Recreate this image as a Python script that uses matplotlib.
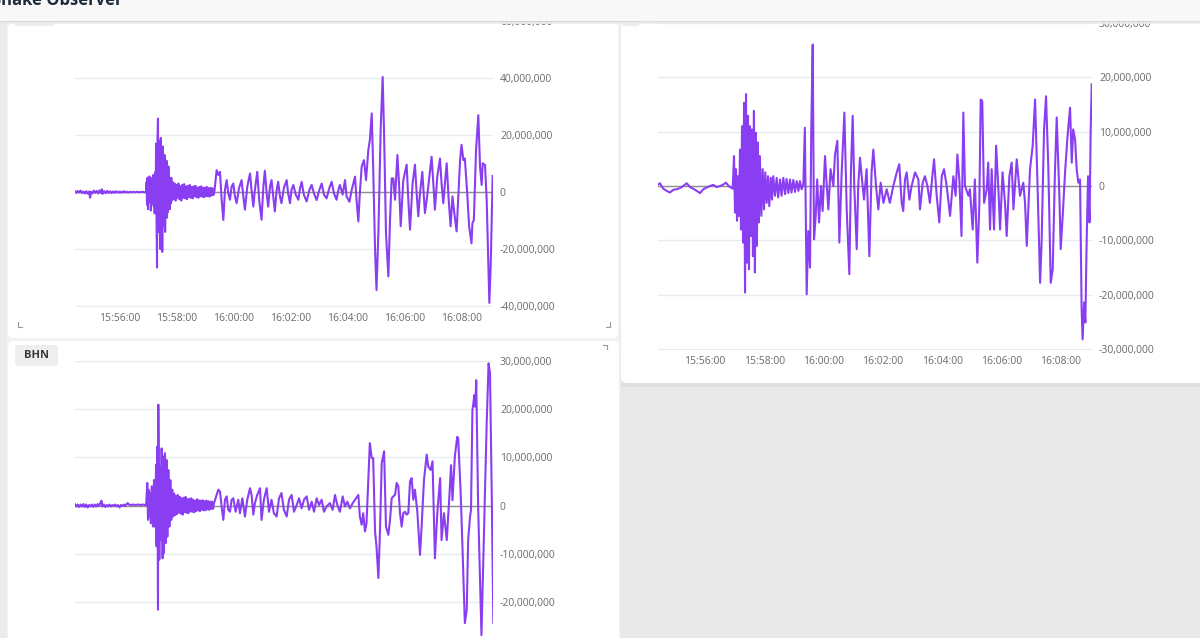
import matplotlib.pyplot as plt
from matplotlib.patches import Rectangle, FancyBboxPatch
from matplotlib.lines import Line2D
from matplotlib.ticker import FuncFormatter

W, H = 1200, 638

# time = seconds after 15:54:00, amplitude = millions of counts
# top-left panel (label hidden under the header)
top_trace = [
    (25, 0.3), (28, -0.3), (31, 0.4), (34, -0.2), (37, 0.5), (40, -0.4), (43, 0.2), (46, -0.5),
    (49, 0.3), (52, -0.6), (55, 0.2), (57, -2.0), (59, 0.1), (62, -0.5), (65, 0.5), (68, -0.3),
    (71, 0.4), (74, -0.5), (77, 0.6), (80, -0.4), (82, 1.0), (84, -0.6), (87, 0.3), (90, -0.4),
    (93, 0.4), (96, -0.3), (99, 0.3), (102, -0.4), (105, 0.2), (108, -0.3), (111, 0.3), (114, -0.2),
    (117, 0.2), (120, -0.3), (123, 0.2), (126, -0.2), (129, 0.3), (132, -0.2), (135, 0.1), (138, -0.2),
    (141, 0.1), (144, -0.1), (148, 0.1), (152, -0.1), (156, 0.1), (160, -0.1), (164, 0.0), (168, 0.1),
    (172, -0.1), (175, 0.0),
    (176, 3.5), (177, -4.5), (178, 5.0), (179, -6.0), (180, 3.0), (181, -3.5), (182, 5.5), (183, -3.0),
    (184, 4.0), (185, -6.5), (186, 2.5), (187, -4.0), (188, 5.0), (189, -2.5), (190, 6.0), (191, -5.0),
    (192, 3.5), (193, -7.5), (194, 7.0), (195, -5.0), (196, 17.0), (197, -10.0), (198, -26.5), (199, 19.0),
    (200, 25.8), (201, -14.0), (202, 18.0), (203, -10.0), (204, 12.0), (205, -20.0), (206, 19.0), (207, -8.0),
    (208, 14.0), (209, -21.0), (210, 16.0), (211, -12.0), (212, 10.0), (213, -9.0), (214, 13.0), (215, -14.0),
    (216, 8.0), (217, -6.0), (218, 11.0), (219, -9.0), (220, 6.0), (221, -7.0), (222, 9.0), (223, -5.0),
    (224, 5.0), (225, -6.0), (226, 4.0), (227, -4.0), (228, 5.0), (229, -3.0),
    (231, 3.5), (233, -2.5), (235, 3.0), (237, -3.0), (239, 2.5), (241, -2.0), (243, 3.0), (245, -2.5),
    (247, 2.0), (249, -3.0), (251, 2.5), (253, -2.0), (255, 2.8), (257, -2.2), (259, 2.0), (261, -2.5),
    (263, 2.2), (265, -1.8), (267, 2.5), (269, -2.0), (271, 1.8), (273, -2.2), (275, 2.0), (277, -1.5),
    (279, 2.2), (281, -1.8), (283, 1.5), (285, -2.0), (287, 1.8), (289, -1.5), (291, 2.0), (293, -1.6),
    (295, 1.5), (297, -1.8), (299, 1.6), (301, -1.4), (303, 1.8), (305, -1.5), (307, 1.4), (309, -1.6),
    (311, 1.5), (313, -1.2), (315, 1.3), (317, -1.0), (319, 0.5),
    (323.5, 7.7), (327, 6.0), (330.5, 7.1), (334, -2.7), (337.6, -9.8), (341, 0.8), (344.6, 4.2), (348, -0.4),
    (351.6, -2.7), (355, 1.9), (358.6, 3.0), (362, -1.5), (365.6, -3.9), (370.5, 1.3), (376, 4.2), (379.7, -1.6),
    (383, -6.2), (388, 1.9), (393.7, 6.5), (397, 0.7), (400.7, -5.1), (404, 0.7), (409, 7.1), (413, -2.7),
    (418, -9.7), (421.8, 1.9), (425, 7.5), (428.8, -0.4), (432, -5.1), (435.8, 1.9), (439, 4.2), (442.8, -1.6),
    (446, -6.8), (449.8, 0.7), (453, 3.6), (456.9, -1.6), (460, -3.9), (465, 1.4), (471, 4.2), (474, -0.5),
    (478, -3.9), (481, 0.8), (485, 2.5), (490, -0.9), (495.5, -2.7), (499, 1.3), (502.5, 3.6), (507, -0.9),
    (513, -3.3), (518.6, 0.7), (523.5, 2.5), (528.5, -0.5), (534, -2.8), (539.7, 0.7), (544.6, 3.0), (549.5, -0.9),
    (555, -2.2), (560.7, 1.4), (565.6, 3.6), (570.5, -0.5), (576, -2.7), (579.7, 0.7), (583, 2.5), (588.8, -0.9),
    (593.7, 4.2), (597, -1.5), (603, -3.4), (607.8, 0.7), (614.8, 5.4), (618, -2.7), (621.8, -10.3), (625, -0.4),
    (628.8, 8.9), (633.7, 11.2), (638, 4.2), (642.8, 14.7), (646, 18.2), (650, 27.6), (653, 8.9), (657, -20.4),
    (660, -34.4), (664, -14.4), (669, 23.0), (673, 40.4), (676, 20.6), (680, -14.4), (685, -29.6), (688.5, -9.8),
    (692, 4.8), (695.5, 4.8), (699, -2.7), (704, 13.0), (707.4, 3.2), (711, -12.0), (716.5, 4.2), (723.5, 9.6),
    (727, -2.7), (730.6, -13.2), (736, 3.0), (741, 9.6), (744.6, -0.4), (748, -8.5), (751.6, -0.4), (756.5, 7.1),
    (762, -7.4), (765.7, -2.8), (769, 1.9), (776, 12.4), (779.7, 3.0), (783, -6.2), (788, 5.4), (793.7, 11.8),
    (797, 3.0), (800.7, -3.9), (804, 3.0), (807.8, 10.1), (812, -2.7), (816, -12.0), (820, -1.5), (823, -6.2),
    (828.7, -13.8), (832, -2.7), (836, 11.2), (839, 16.6), (843, 11.2), (846, 11.8), (851, -0.4), (855, -12.0),
    (860, -18.0), (862, -10.9), (865, -9.8), (869.6, 14.7), (874.4, 27.0), (878, 8.9), (881.4, 2.5), (883.6, 10.1),
    (888.5, 9.5), (892, -2.7), (897.6, -38.9), (900.4, -26.1), (904.6, 5.7),
]

# right panel (label hidden under the header)
right_trace = [
    (25.6, 0.3), (29, 0.5), (32, 0.0), (35.7, -0.5), (42.4, -0.9), (49, -1.2), (56, -0.7), (62.7, -0.6),
    (69, -0.4), (76, 0.0), (83, 0.5), (89.6, -0.2), (96.4, -0.5), (103, -0.9), (110, -1.3), (116.6, -0.6),
    (123, -0.3), (130, 0.0), (137, 0.2), (143.6, -0.2), (153.7, 0.1), (162.5, 0.6), (169, -0.1), (176, -0.5),
    (178.7, 5.5), (180.7, -4.9), (182.7, 3.1), (184.8, -6.4), (186.8, 1.8), (188.8, -5.5), (190.8, 6.7), (192.8, -8.0),
    (194.9, 11.0), (197, -10.4), (199, 15.3), (201, -19.6), (203, 16.9), (205, -14.1), (207, 12.9), (209, -15.3),
    (211, 11.0), (213, -9.2), (215, 10.4), (217, -12.9), (219, 13.8), (221, -15.9), (223, 9.8), (225, -11.0),
    (227, 8.0), (229, -6.7), (231, 5.5), (234, -5.5), (236.7, 3.1), (239.4, -4.3), (242, 2.5), (244.8, -3.1),
    (247.5, 1.8), (250, -3.7), (253, 1.5), (255.6, -2.5), (258, 1.8), (261.6, -1.8), (265, 1.5), (268, -2.1),
    (271.8, 1.2), (275, -1.8), (278.5, 1.5), (282, -1.5), (285, 1.3), (288.6, -1.3), (292, 1.2), (295, -1.2),
    (298.7, 1.1), (302, -1.1), (305.5, 0.9), (309, -0.9), (312, 0.9), (315.6, -0.6), (319, 0.3),
    (322, 10.7), (325.7, -19.9), (329, -8.3), (332.5, -15.0), (335, 10.4), (337.9, 26.0), (340.6, -9.8), (344, -5.5),
    (347, 1.2), (350.7, -6.7), (354.7, 0.0), (358, -4.6), (362.8, 5.5), (366, 0.6), (369.6, -4.3), (374, 3.1),
    (379.7, 0.0), (383, 5.8), (387.8, 8.3), (391.8, -10.4), (396.5, 2.5), (402, 13.5), (406.7, -4.3), (412, -16.2),
    (415.4, 3.1), (418.8, 12.9), (422, 0.0), (427, -11.6), (430, 0.0), (433.6, 5.2), (437, 1.8), (441.7, -2.5),
    (447, 3.1), (452.5, -12.9), (457, 2.5), (460.6, 6.7), (466, 0.0), (470.7, -4.3), (475.5, 0.6), (481, -3.1),
    (487.6, -0.6), (494, -3.1), (501, 0.0), (508, 2.5), (513, 4.0), (518, -3.1), (521, -4.6), (524.7, 1.2),
    (528, 2.5), (533.5, -2.5), (538, 0.0), (545, 2.5), (551.7, 1.2), (555, -4.3), (560.5, 0.6), (565, 1.8),
    (570, 0.0), (575, -3.1), (580.7, 2.5), (583.4, 4.9), (588.8, -1.8), (594, -6.7), (599, 1.8), (603.6, 3.1),
    (609, 0.0), (615.8, -5.5), (622.5, 1.8), (627, -1.8), (630.6, 5.8), (634.6, 1.2), (639, -9.2), (642.7, 13.5),
    (646, 0.0), (653, -1.8), (656, -0.6), (661.6, -8.0), (666, 1.2), (671, -14.1), (675, -3.7), (677.8, 15.9),
    (681, 15.6), (684.6, -3.1), (690, -0.6), (693, 4.3), (696.7, -8.0), (700, 3.1), (704.8, -8.0), (709, 7.4),
    (713.6, -0.6), (717, -8.0), (722, 2.5), (727, -3.1), (730.4, -9.2), (735.8, 1.8), (740.5, 4.3), (744, -4.3),
    (750.7, 4.9), (757.4, -1.8), (764, 0.6), (767.5, -3.1), (771, -11.0), (777.6, 3.1), (783, 7.4), (787.8, 15.9),
    (792.5, 1.2), (798, -17.8), (801, -10.4), (806, 10.4), (810, 16.5), (814.7, 3.1), (819.5, -17.8), (823.5, -15.3),
    (828, 2.5), (831.6, 12.6), (837, -1.8), (839.7, -11.6), (843.7, -5.5), (848.5, 2.5), (853, 8.6), (858.6, 14.4),
    (862, 4.3), (865, 10.4), (868.7, 8.6), (872, 3.1), (875.4, 0.6), (878.8, 1.2), (882, -22.7), (884, -28.2),
    (887, -21.4), (889.6, -25.1), (892, -11.0), (895, 1.8), (898, -6.7), (900.4, 10.4), (902.4, 18.7),
]

# bottom-left panel, channel BHN
bhn_trace = [
    (25, 0.3), (28, -0.2), (31, 0.2), (34, -0.3), (37, 0.2), (40, -0.2), (43, 0.3), (46, -0.3),
    (49, 0.2), (52, -0.4), (55, 0.1), (58, -0.2), (61, 0.2), (64, -0.3), (67, 0.2), (70, -0.2),
    (73, 0.3), (76, -0.1), (79, 0.6), (81, 1.0), (83, -0.2), (86, 0.2), (89, -0.3), (92, 0.1),
    (95, -0.2), (98, 0.2), (101, -0.2), (104, 0.1), (107, -0.1), (110, 0.2), (113, -0.2), (116, 0.1),
    (119, -0.4), (122, 0.1), (125, -0.1), (128, 0.2), (131, -0.1), (134, 0.3), (136, 0.5), (139, 0.2),
    (143, 0.1), (148, 0.2), (153, 0.1), (158, 0.2), (163, 0.1), (168, 0.2), (173, 0.1), (175, 0.1),
    (177.5, 4.7), (179, -3.0), (180, 3.3), (182, -2.3), (183, 2.6), (185, -3.7), (187, 4.0), (189.5, -4.4),
    (191.6, 5.3), (193.7, -4.4), (196, 8.5), (197, -8.5), (198.6, 12.3), (200, -21.7), (200.7, 21.0), (202.8, -11.3),
    (204, 8.1), (206, -7.2), (207.7, 11.9), (209.8, -11.0), (211, 10.2), (212.6, -9.9), (214.7, 10.9), (216.8, -7.8),
    (218, 9.5), (219.7, -6.5), (221.8, 7.4), (224, -4.4), (226, 5.3), (228, -3.0), (230, 3.3), (232, -2.3),
    (234, 2.5), (236, -2.0), (238, 2.0), (240, -1.8), (242, 2.2), (244, -1.5), (246, 1.8), (248, -1.7),
    (250, 1.5), (252, -1.9), (254, 1.6), (256, -1.4), (258, 1.8), (260, -1.5), (262, 1.3), (264, -1.6),
    (266, 1.4), (268, -1.2), (270, 1.5), (272, -1.3), (274, 1.2), (276, -1.4), (278, 1.0), (280, -1.2),
    (282, 1.3), (284, -1.0), (286, 1.1), (288, -1.2), (290, 1.0), (292, -0.9), (294, 1.1), (296, -1.0),
    (298, 0.9), (300, -1.0), (302, 1.0), (304, -0.8), (306, 0.9), (308, -0.9), (310, 0.8), (312, -0.7),
    (314, 0.8), (316, -0.7), (318, 0.5),
    (327, 3.3), (330.5, 2.9), (334, -0.2), (337.6, -3.0), (341, 1.2), (344.6, 1.9), (348, -0.9), (351.6, -1.3),
    (355, 1.2), (358.6, 1.5), (363.5, -1.3), (369, 1.2), (372.6, -1.6), (377.6, 1.5), (383, -2.3), (388, 1.2),
    (393.7, 3.6), (397, 2.2), (400.7, -1.9), (404, 0.5), (409, 2.2), (414.8, 3.6), (418, -3.0), (423, 1.2),
    (428.8, 3.6), (433.7, -1.3), (439, 1.2), (444, -1.6), (449.8, -2.3), (454.8, 1.5), (460, 2.6), (465, -0.9),
    (471, -2.3), (475.8, 1.2), (481.4, 2.2), (486.3, -1.3), (492, 0.1), (497, 1.5), (502.5, -0.6), (507.4, 1.2),
    (513, 1.9), (518, -0.9), (523.5, 0.8), (528.5, -1.3), (534, 1.5), (539, 0.1), (544.6, 1.2), (549.5, -1.3),
    (555, -0.2), (562, 0.5), (567.7, -0.9), (572.7, 2.2), (577.6, 0.1), (583, -1.3), (588.8, 1.9), (593.7, -0.2),
    (598.6, 0.8), (604, -0.6), (610, 0.5), (614.8, 1.2), (621.8, 2.2), (625, -2.3), (628.8, -4.0), (632, -1.6),
    (635.8, -5.4), (639, -3.7), (642.8, 5.3), (646, 13.0), (650, 9.9), (653, 9.9), (657, -5.4), (660, -8.5),
    (664, -15.1), (667, -6.5), (671, 8.8), (676, 11.3), (680, -4.4), (685, -6.1), (688.5, -3.0), (692, 1.5),
    (695.5, 1.9), (699, 2.2), (702.5, 4.7), (706, 4.0), (709.5, -1.6), (713, -4.4), (716.5, -1.6), (720, -1.3),
    (723.5, -1.9), (727, -1.6), (730.6, 5.0), (734, 5.7), (737.6, 1.2), (741, 3.3), (746, -1.3), (751.6, -10.3),
    (755, -4.4), (760, 5.3), (765.7, 10.6), (769, 8.1), (774, 7.4), (778, 9.2), (783, -11.0), (788, -1.6),
    (794, 5.7), (797, -7.2), (802, -1.6), (808, -7.2), (813, 1.1), (817, 8.4), (820, 1.1), (825, 10.2),
    (830, 14.3), (832, 14.0), (837, 3.2), (841, -8.6), (846, -24.5), (850, -21.8), (853, -7.2), (857, -2.3),
    (859, -0.9), (862, 19.9), (864, 21.3), (866, 23.0), (868, 20.6), (870, 26.1), (874, -0.2), (881, -27.0),
    (886, -7.2), (892, 17.1), (896, 29.6), (899, 27.5), (903, -0.2), (906, -24.4),
]

tick_secs = [120, 240, 360, 480, 600, 720, 840]
tick_labels = ["15:56:00", "15:58:00", "16:00:00", "16:02:00", "16:04:00", "16:06:00", "16:08:00"]
top_yticks = [-40, -20, 0, 20, 40, 60]
right_yticks = [-30, -20, -10, 0, 10, 20, 30]
bhn_yticks = [-20, -10, 0, 10, 20, 30]

TRACE = '#8a3ef2'
GRID = '#e6ebf1'
ZERO = '#8f8f8f'
TEXT = '#6a6a6a'

plt.rcParams['font.family'] = ['Open Sans', 'DejaVu Sans']

fig = plt.figure(figsize=(W / 100, H / 100), dpi=100, facecolor='#e9e9e9')
inch = fig.dpi_scale_trans


def px_box(x0, y0, x1, y1):
    # pixel box (top-left origin) -> figure fraction rect
    return [x0 / W, 1 - y1 / H, (x1 - x0) / W, (y1 - y0) / H]


def card(x0, y0, x1, y1, color, z=-5, r=0.0):
    if r > 0:
        p = FancyBboxPatch((x0 / 100, (H - y1) / 100), (x1 - x0) / 100, (y1 - y0) / 100,
                           boxstyle='round,pad=0,rounding_size=%g' % (r / 100),
                           transform=inch, facecolor=color, edgecolor='none', zorder=z)
    else:
        p = Rectangle((x0 / 100, (H - y1) / 100), (x1 - x0) / 100, (y1 - y0) / 100,
                      transform=inch, facecolor=color, edgecolor='none', zorder=z)
    fig.add_artist(p)


def corner(pts):
    xs = [p[0] / 100 for p in pts]
    ys = [(H - p[1]) / 100 for p in pts]
    fig.add_artist(Line2D(xs, ys, transform=inch, color='#9a9a9a', lw=0.8, zorder=-1))


# page background and cards
card(0, 22, 620, 638, '#f2f2f2', z=-6)
card(0, 22, 7, 638, '#ebebeb', z=-5)
card(8, 22, 618, 338, 'white', r=6)
card(8, 341, 619, 650, 'white', r=6)
card(621, 383, 1200, 387, '#dedede', z=-6)
card(621, 14, 1210, 383, 'white', r=6)
card(14, 10, 55, 26, '#ececec', z=-4, r=3)
card(622, 10, 640, 26, '#ececec', z=-4, r=3)
card(15, 345, 58, 366, '#eeeeee', z=-4, r=3)
fig.text(36.5 / 100, (H - 356) / 100, 'BHN', transform=inch, ha='center', va='center',
         fontsize=8, fontweight='bold', color='#3a3a3a')
corner([(18, 322), (18, 327), (22, 327)])
corner([(606, 327), (610, 327), (610, 322)])
corner([(603, 345), (607, 345), (607, 349)])

# header bar on top of everything (title is cut by the top edge, as in the screenshot)
card(0, -5, 1200, 21, '#f8f8f8', z=10)
fig.add_artist(Line2D([0, 12], [(H - 21.5) / 100] * 2, transform=inch, color='#d6d6d6', lw=1.2, zorder=10))
fig.add_artist(Line2D([0, 12], [(H - 23) / 100] * 2, transform=inch, color='#ececec', lw=1.2, zorder=10))
fig.text(-8 / 100, (H - 5) / 100, 'Shake Observer', transform=inch, ha='left', va='baseline',
         fontsize=12, fontweight='bold', color='#1d2b3b', zorder=11)

fmt = FuncFormatter(lambda v, _: f"{v * 1e6:,.0f}")


def seismo(rect, trace, yticks, ylim, xlim, show_x=True):
    ax = fig.add_axes(px_box(*rect))
    ax.set_facecolor('none')
    t = [p[0] for p in trace]
    v = [p[1] for p in trace]
    ax.axhline(0, color=ZERO, lw=1.0, zorder=1)
    ax.plot(t, v, color=TRACE, lw=1.5, zorder=2, solid_joinstyle='round')
    ax.set_xlim(*xlim)
    ax.set_ylim(*ylim)
    ax.set_yticks(yticks)
    ax.yaxis.set_major_formatter(fmt)
    ax.yaxis.tick_right()
    ax.grid(axis='y', color=GRID, lw=1.0, zorder=0)
    ax.set_axisbelow(True)
    ax.set_xticks(tick_secs)
    ax.set_xticklabels(tick_labels if show_x else [])
    ax.tick_params(length=0, labelsize=7.5, labelcolor=TEXT)
    ax.tick_params(axis='y', pad=5)
    ax.tick_params(axis='x', pad=4)
    for s in ax.spines.values():
        s.set_visible(False)
    return ax


seismo((75, 21, 493, 307), top_trace, top_yticks, (-40.35, 60.05), (25.3, 905.3))
seismo((658, 22, 1092, 350), right_trace, right_yticks, (-30.15, 30.15), (24.9, 903))
seismo((75, 361, 493, 638), bhn_trace, bhn_yticks, (-27.6, 30.1), (25.3, 905.3), show_x=False)

fig.savefig('out.png', dpi=100, facecolor=fig.get_facecolor())
